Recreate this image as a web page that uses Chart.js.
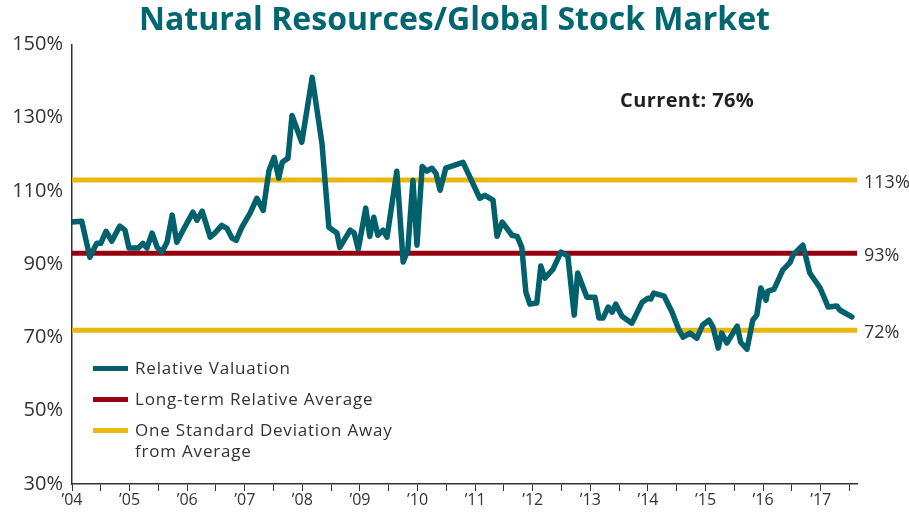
<!DOCTYPE html>
<html>
<head>
<meta charset="utf-8">
<script src="https://cdn.jsdelivr.net/npm/chart.js@4.4.1/dist/chart.umd.min.js"></script>
<style>
  body { margin: 0; background: #fff; }
  #wrap { position: relative; width: 909px; height: 513px; }
  #current {
    position: absolute; left: 620px; top: 86px;
    font: bold 20px "Open Sans", sans-serif; letter-spacing: 0.4px; color: #231f20;
  }
  #legend {
    position: absolute; left: 93px; top: 357px;
    font: 17px "Open Sans", sans-serif; letter-spacing: 0.8px; color: #333;
  }
  #legend .item { display: flex; align-items: flex-start; margin-bottom: 10px; line-height: 21px; }
  #legend .sw { width: 35px; height: 5px; margin-top: 9px; margin-right: 7px; flex: none; }
</style>
</head>
<body>
<div id="wrap">
  <canvas id="chart"></canvas>
  <div id="current">Current: 76%</div>
  <div id="legend">
    <div class="item"><span class="sw" style="background:#00606b"></span><span>Relative Valuation</span></div>
    <div class="item"><span class="sw" style="background:#96000f"></span><span>Long-term Relative Average</span></div>
    <div class="item"><span class="sw" style="background:#e9b70f"></span><span>One Standard Deviation Away<br>from Average</span></div>
  </div>
</div>
<script>
// dates as decimal years, values in %
const dates = [
  2004.00, 2004.17, 2004.31, 2004.43, 2004.50, 2004.59, 2004.69, 2004.83, 2004.92, 2004.99,
  2005.15, 2005.23, 2005.30, 2005.39, 2005.48, 2005.56, 2005.65, 2005.74, 2005.82, 2005.94,
  2006.10, 2006.17, 2006.26, 2006.40, 2006.48, 2006.60, 2006.69, 2006.78, 2006.85, 2006.95,
  2007.09, 2007.21, 2007.32, 2007.42, 2007.51, 2007.59, 2007.65, 2007.75, 2007.82, 2007.99,
  2008.17, 2008.34, 2008.46, 2008.60, 2008.65, 2008.83, 2008.90, 2008.97, 2009.10, 2009.17,
  2009.24, 2009.31, 2009.40, 2009.47, 2009.64, 2009.75, 2009.83, 2009.92, 2009.99, 2010.08,
  2010.16, 2010.25, 2010.32, 2010.39, 2010.49, 2010.79, 2011.08, 2011.17, 2011.31, 2011.38,
  2011.47, 2011.64, 2011.73, 2011.81, 2011.88, 2011.95, 2012.07, 2012.14, 2012.21, 2012.35,
  2012.49, 2012.61, 2012.72, 2012.78, 2012.94, 2013.08, 2013.15, 2013.22, 2013.31, 2013.38,
  2013.44, 2013.55, 2013.72, 2013.90, 2014.00, 2014.05, 2014.10, 2014.28, 2014.42, 2014.54,
  2014.61, 2014.73, 2014.85, 2014.95, 2015.06, 2015.13, 2015.22, 2015.28, 2015.37, 2015.55,
  2015.61, 2015.72, 2015.82, 2015.89, 2015.96, 2016.05, 2016.08, 2016.19, 2016.34, 2016.47,
  2016.52, 2016.69, 2016.81, 2016.99, 2017.13, 2017.28, 2017.33, 2017.54
];
const relValuation = [
  101.5, 101.7, 91.9, 95.7, 95.7, 99.0, 96.3, 100.4, 99.3, 94.4,
  94.4, 95.7, 94.4, 98.5, 94.6, 93.3, 96.0, 103.4, 96.0, 99.6,
  104.2, 102.0, 104.5, 97.4, 98.5, 100.6, 99.8, 97.1, 96.5, 100.1,
  103.9, 108.0, 104.7, 115.6, 119.2, 113.5, 117.8, 118.9, 130.6, 123.3,
  141.0, 123.0, 100.1, 98.5, 94.6, 99.3, 98.5, 94.1, 105.3, 97.6,
  102.8, 97.9, 99.3, 97.4, 115.4, 90.6, 93.8, 112.9, 95.2, 116.7,
  115.4, 116.2, 114.8, 110.2, 116.2, 117.8, 108.0, 108.8, 107.5, 97.6,
  101.5, 97.9, 97.6, 94.6, 82.4, 79.1, 79.4, 89.5, 86.2, 88.6,
  93.3, 92.2, 76.1, 87.6, 81.0, 81.0, 75.3, 75.3, 78.3, 76.9,
  79.1, 75.8, 73.9, 79.6, 80.7, 80.5, 82.1, 81.3, 76.9, 72.0,
  70.1, 71.2, 69.8, 73.4, 74.7, 72.8, 67.1, 71.2, 68.5, 73.1,
  68.7, 66.8, 74.7, 76.1, 83.5, 80.2, 82.6, 83.2, 88.4, 90.5,
  92.5, 95.2, 87.6, 83.5, 78.3, 78.6, 77.5, 75.6
];
const longTermAvg = 93;
const stdUpper = 113;
const stdLower = 72;
const xStart = 2004;
const xEnd = 2017.63;
const yTicks = [30, 50, 70, 90, 110, 130, 150];

const flat = v => [{ x: xStart, y: v }, { x: xEnd, y: v }];
const lineStyle = { pointRadius: 0, fill: false, tension: 0 };

new Chart(document.getElementById('chart'), {
  type: 'line',
  data: {
    datasets: [
      { label: 'Relative Valuation', data: dates.map((d, i) => ({ x: d, y: relValuation[i] })),
        borderColor: '#00606b', borderWidth: 5.5, borderJoinStyle: 'round', borderCapStyle: 'round', ...lineStyle },
      { label: 'Long-term Relative Average', data: flat(longTermAvg),
        borderColor: '#96000f', borderWidth: 5, ...lineStyle },
      { label: 'One Standard Deviation Away from Average', data: flat(stdUpper),
        borderColor: '#e9b70f', borderWidth: 5, ...lineStyle },
      { label: 'lower', data: flat(stdLower),
        borderColor: '#e9b70f', borderWidth: 5, ...lineStyle }
    ]
  },
  options: {
    responsive: true,
    maintainAspectRatio: false,
    animation: false,
    layout: { padding: 0 },
    plugins: {
      legend: { display: false },
      tooltip: { enabled: false },
      title: {
        display: true,
        text: 'Natural Resources/Global Stock Market',
        color: '#006670',
        font: { family: 'Open Sans', size: 32, weight: 'bold' },
        padding: { top: 2, bottom: 4 }
      }
    },
    scales: {
      x: {
        type: 'linear',
        min: xStart,
        max: xEnd,
        afterBuildTicks: axis => {
          const t = [];
          for (let v = xStart; v <= xEnd; v += 0.5) t.push({ value: v });
          axis.ticks = t;
        },
        afterFit: axis => { axis.height = 29; },
        ticks: {
          autoSkip: false,
          maxRotation: 0,
          color: '#333',
          padding: 0,
          font: { family: 'Open Sans', size: 16 },
          callback: v => Number.isInteger(v) ? '\u2019' + String(v).slice(2) : ''
        },
        grid: { drawOnChartArea: false, drawTicks: true, tickLength: 7, color: '#333', lineWidth: 1 },
        border: { color: '#333', width: 1.5 }
      },
      y: {
        min: 30,
        max: 150,
        afterBuildTicks: axis => { axis.ticks = yTicks.map(v => ({ value: v })); },
        afterFit: axis => { axis.width = 72; },
        ticks: {
          color: '#333',
          padding: 9,
          font: { family: 'Open Sans', size: 20 },
          callback: v => v + '%'
        },
        grid: { display: false, drawTicks: false },
        border: { color: '#333', width: 1.5 }
      },
      y2: {
        position: 'right',
        min: 30,
        max: 150,
        afterBuildTicks: axis => { axis.ticks = [stdLower, longTermAvg, stdUpper].map(v => ({ value: v })); },
        afterFit: axis => { axis.width = 52; },
        ticks: {
          color: '#333',
          padding: 7,
          labelOffset: 3,
          font: { family: 'Open Sans', size: 18 },
          callback: v => v + '%'
        },
        grid: { display: false, drawTicks: false },
        border: { display: false }
      }
    }
  }
});
</script>
</body>
</html>
